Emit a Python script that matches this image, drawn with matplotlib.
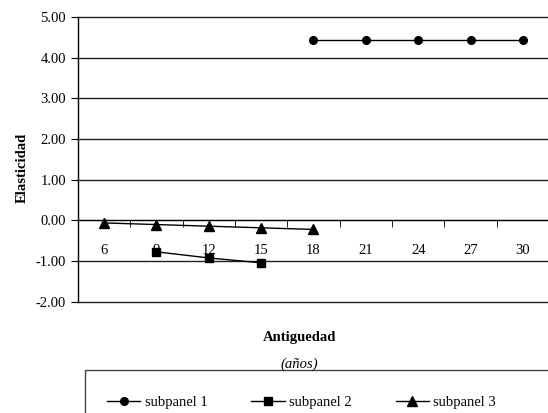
import numpy as np
import matplotlib
matplotlib.use('Agg')
import matplotlib.pyplot as plt
from matplotlib.patches import Rectangle

plt.rcParams['font.family'] = 'Liberation Serif'
plt.rcParams['font.size'] = 10.5

# datos
antiguedad = ['6', '9', '12', '15', '18', '21', '24', '27', '30']
sub1 = [np.nan, np.nan, np.nan, np.nan, 4.43, 4.43, 4.43, 4.43, 4.43]
sub2 = [np.nan, -0.77, -0.92, -1.04, np.nan, np.nan, np.nan, np.nan, np.nan]
sub3 = [-0.06, -0.10, -0.14, -0.18, -0.22, np.nan, np.nan, np.nan, np.nan]
yticks = [-2, -1, 0, 1, 2, 3, 4, 5]

fig = plt.figure(figsize=(5.48, 4.13), dpi=100)
ax = fig.add_axes([0.142, 0.269, 0.86, 0.69])

x = np.arange(len(antiguedad))
ax.plot(x, sub1, color='black', lw=1, marker='o', ms=5.5, label='subpanel 1')
ax.plot(x, sub2, color='black', lw=1, marker='s', ms=5.5, label='subpanel 2')
ax.plot(x, sub3, color='black', lw=1, marker='^', ms=6.5, label='subpanel 3')

ax.set_xlim(-0.5, len(antiguedad) - 0.5)
ax.set_ylim(-2, 5)
ax.set_yticks(yticks)
ax.set_yticklabels([f'{v:.2f}' for v in yticks])
for v in yticks:
    ax.axhline(v, color='#222222', lw=1, zorder=0, clip_on=False)

ax.spines['bottom'].set_position(('data', 0))
ax.spines['top'].set_visible(False)
ax.spines['right'].set_visible(False)
ax.spines['left'].set_linewidth(1)

ax.set_xticks(x)
ax.set_xticklabels(antiguedad)
ax.set_xticks(np.arange(-0.5, len(antiguedad), 1), minor=True)
ax.tick_params(axis='x', which='major', length=0, pad=17)
ax.tick_params(axis='x', which='minor', length=5, direction='out', color='black')
ax.tick_params(axis='y', length=5, direction='out')

fig.text(0.04, 0.593, 'Elasticidad', rotation=90, ha='center', va='center',
         fontweight='bold')
fig.text(0.546, 0.184, 'Antiguedad', ha='center', va='center', fontweight='bold')
fig.text(0.546, 0.118, '(años)', ha='center', va='center', style='italic')

# caja de la leyenda (se sale por abajo y por la derecha, como en el original)
fig.patches.append(Rectangle((0.155, -0.1), 0.9, 0.204, transform=fig.transFigure,
                             fill=False, edgecolor='#444444', lw=1))
fig.legend(loc='center left', bbox_to_anchor=(0.195, 1 - 402 / 413),
           ncol=3, frameon=False, handlelength=2.3, handletextpad=0.3,
           borderpad=0, borderaxespad=0, columnspacing=3.0)

fig.savefig('out.png', dpi=100)
